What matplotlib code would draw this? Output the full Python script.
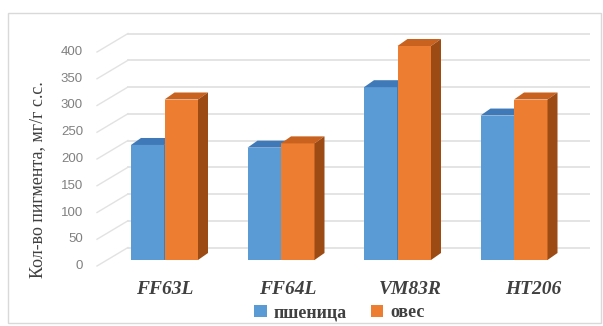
import matplotlib.pyplot as plt
from matplotlib.patches import Polygon, Rectangle, Patch

categories = ['FF63L', 'FF64L', 'VM83R', 'HT206']
wheat = [215, 210, 323, 270]
oats = [300, 218, 400, 300]
series_names = ['пшеница', 'овес']
yticks = [0, 50, 100, 150, 200, 250, 300, 350, 400]

# colours for front / top / side faces
blue = ('#5B9BD5', '#3F79B8', '#2F5F94')
orange = ('#ED7D31', '#C8621E', '#9C4B15')

fig = plt.figure(figsize=(6.03, 3.26), dpi=100)
ax = fig.add_axes([100 / 603, 51 / 326, 490 / 603, 255 / 326])

ppx = 116.5   # pixels per category
ppy = 0.535   # pixels per unit value
ax.set_xlim(-64.5 / ppx, 425.5 / ppx)
ax.set_ylim(-15 / ppy, 240 / ppy)
ax.axis('off')

bw = 33.5 / ppx          # bar width
ddx, ddy = 10 / ppx, 7 / ppy          # bar depth
wall_x, wall_dy = -36.5 / ppx, 12.5 / ppy   # back wall
front_x, front_dy = -67.5 / ppx, -6 / ppy  # front edge of floor
right_x = 425.5 / ppx

grid_c = '#e2e2e2'
for v in yticks:
    ax.plot([wall_x, right_x], [v + wall_dy, v + wall_dy], color=grid_c, lw=1.3, zorder=1)
    ax.plot([front_x, wall_x], [v + front_dy, v + wall_dy], color=grid_c, lw=1.0,
            zorder=1, clip_on=False)
    ax.text(front_x - 14 / ppx, v + front_dy, str(v), ha='right', va='center',
            fontsize=9.5, color='#808080', family='Liberation Sans')


def bar3d(x0, h, cols):
    x1 = x0 + bw
    ax.add_patch(Rectangle((x0, 0), bw, h, facecolor=cols[0], edgecolor='none', zorder=3))
    ax.add_patch(Polygon([(x0, h), (x1, h), (x1 + ddx, h + ddy), (x0 + ddx, h + ddy)],
                         closed=True, facecolor=cols[1], edgecolor='none', zorder=3))
    ax.add_patch(Polygon([(x1, 0), (x1, h), (x1 + ddx, h + ddy), (x1 + ddx, ddy)],
                         closed=True, facecolor=cols[2], edgecolor='none', zorder=3))


for i in range(len(categories)):
    bar3d(i - bw, wheat[i], blue)
    bar3d(i, oats[i], orange)
    ax.text(i * 1.056, -29 / ppy, categories[i], ha='center', va='center',
            fontsize=14, fontweight='bold', fontstyle='italic', color='#404040',
            family='Liberation Serif', clip_on=False)

fig.text(0.063, 0.449, 'Кол-во пигмента, мг/г с.с.', rotation=90, ha='center',
         va='center', fontsize=13, color='#404040', family='Liberation Serif')

handles = [Patch(facecolor=blue[0]), Patch(facecolor=orange[0])]
fig.legend(handles, series_names, loc='center', bbox_to_anchor=(0.563, 0.04),
           ncol=2, frameon=False, handlelength=0.7, handleheight=0.7,
           handletextpad=0.4, columnspacing=1.3,
           prop={'family': 'Liberation Serif', 'weight': 'bold', 'size': 13})
for t in fig.legends[0].get_texts():
    t.set_color('#404040')

fig.add_artist(Rectangle((8 / 603, 3 / 326), 593 / 603, 310 / 326, transform=fig.transFigure,
                         fill=False, edgecolor='#d9d9d9', lw=1))

fig.savefig('out.png', dpi=100)
